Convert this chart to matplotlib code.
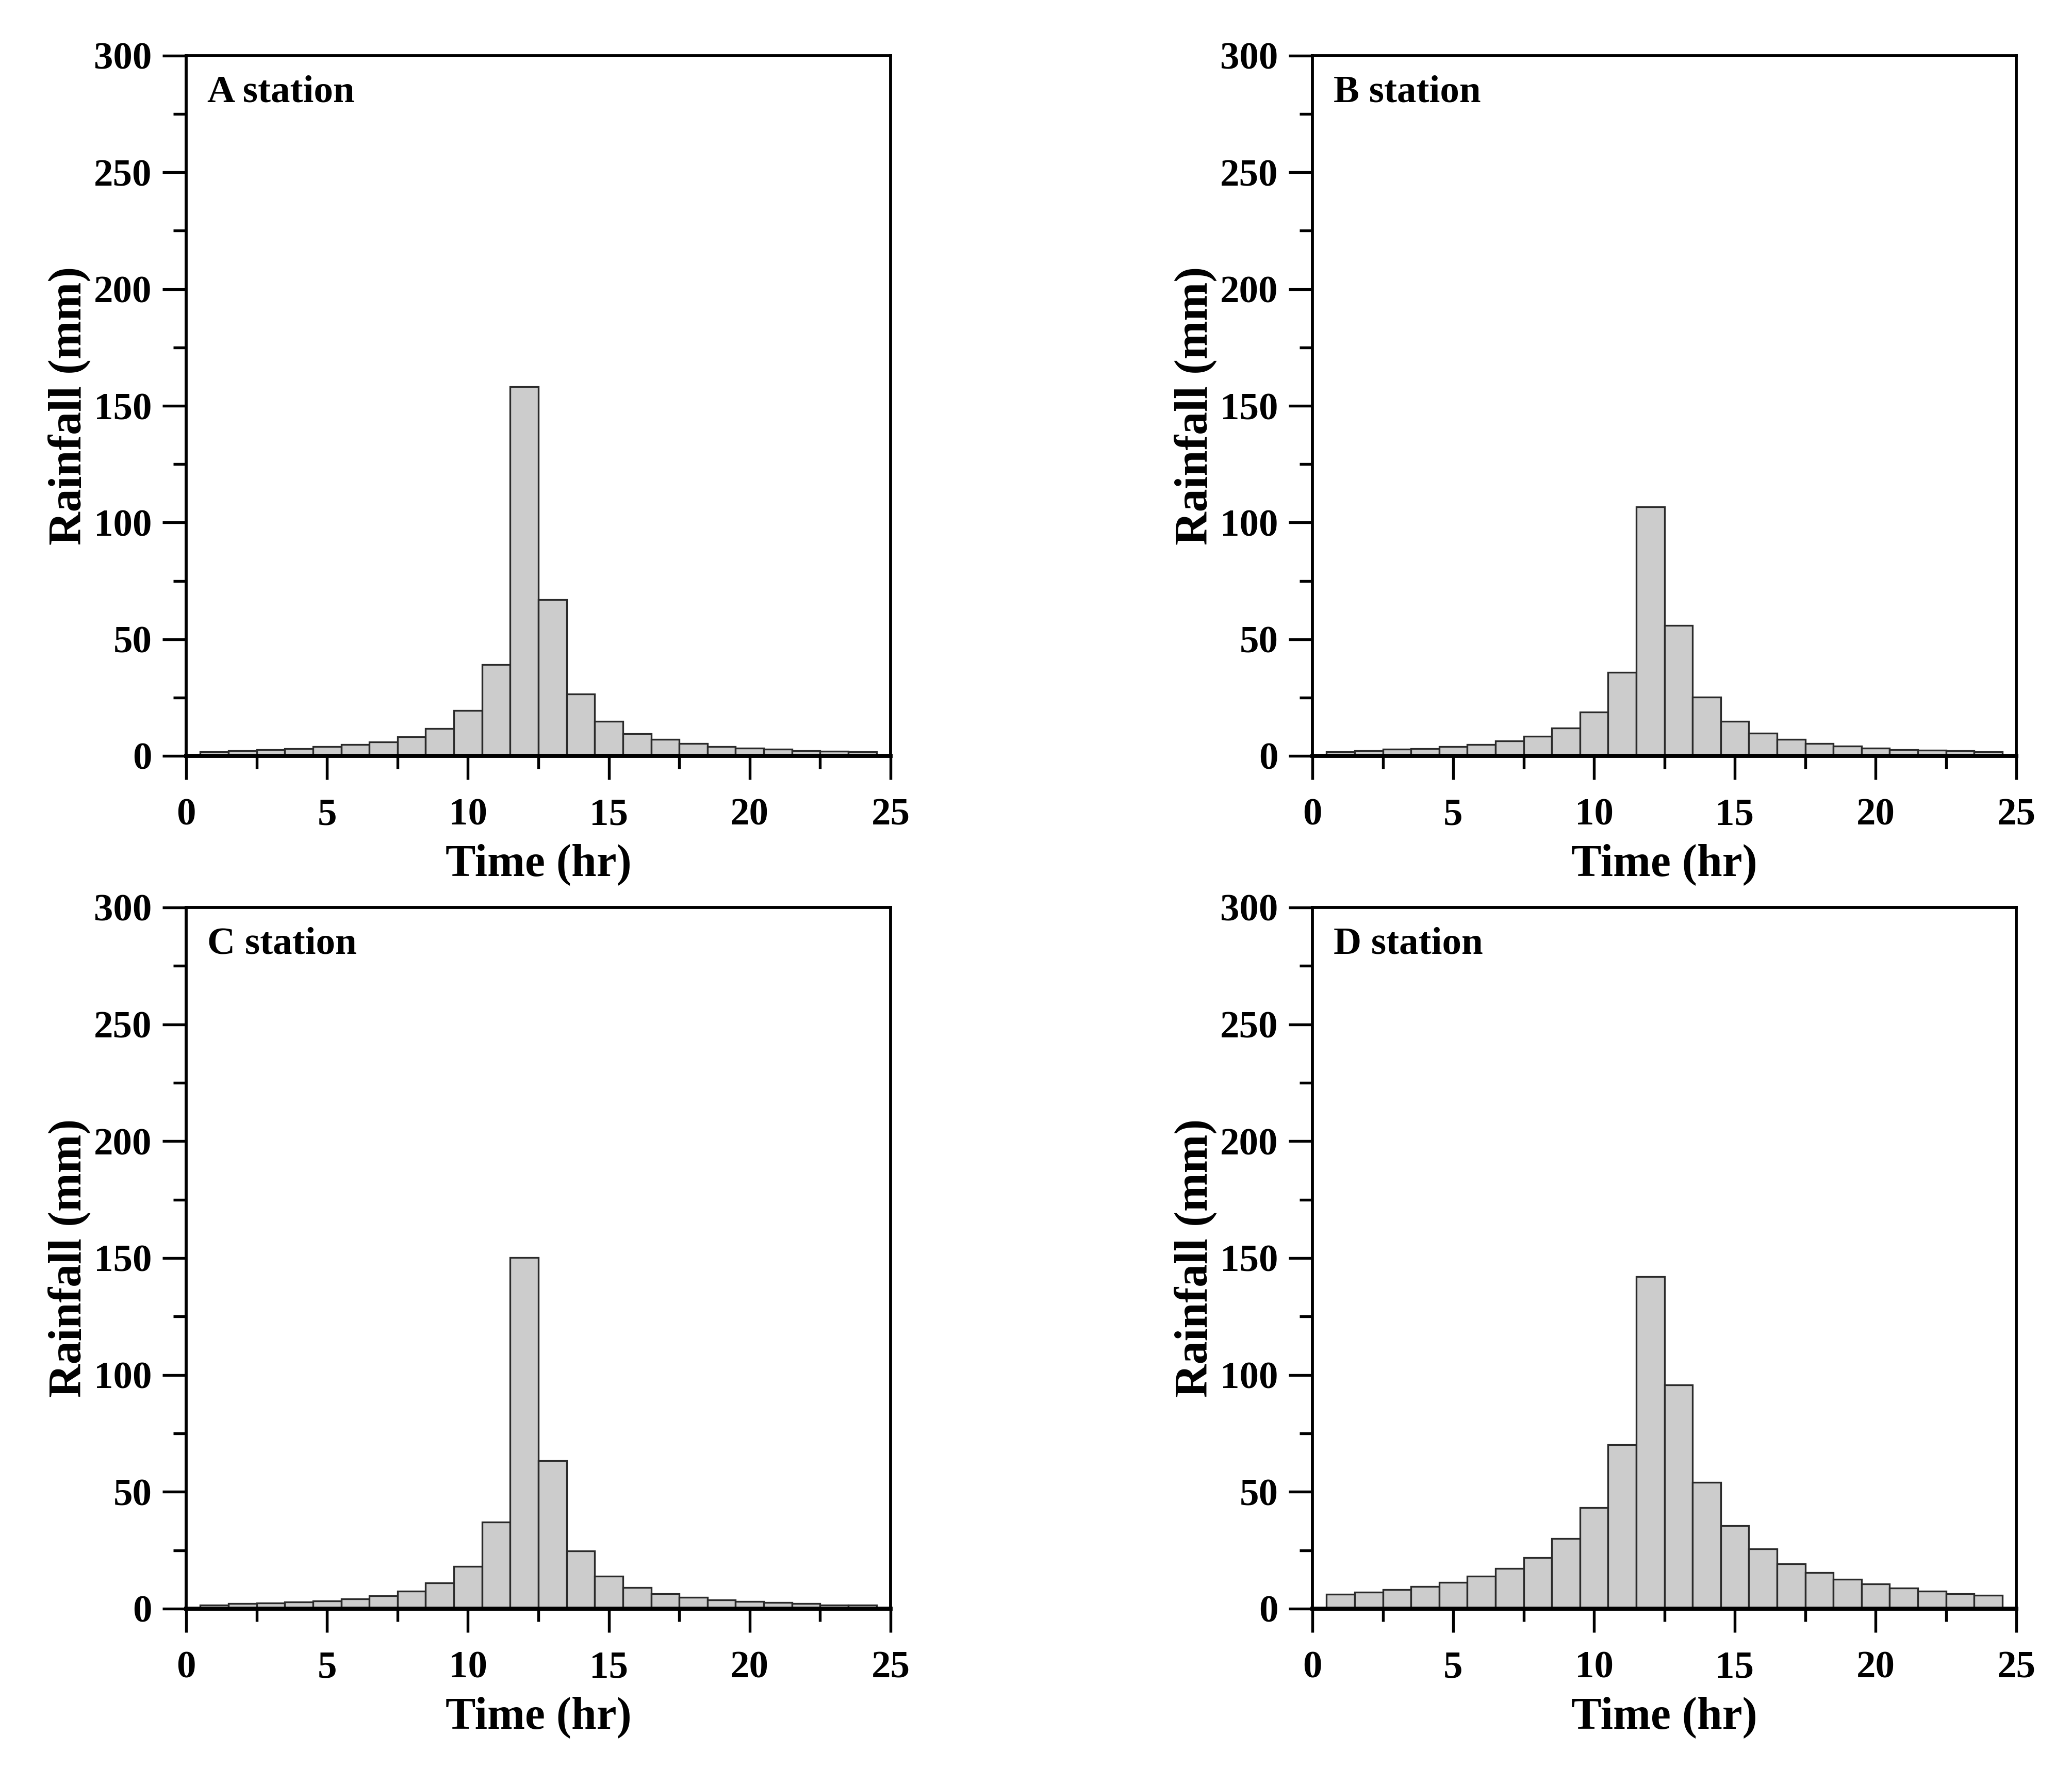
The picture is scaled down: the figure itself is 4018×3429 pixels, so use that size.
import matplotlib
matplotlib.use("Agg")
import matplotlib.pyplot as plt
from matplotlib.ticker import MultipleLocator

plt.rcParams['font.family'] = ['Liberation Serif', 'DejaVu Serif']
plt.rcParams['font.weight'] = 'bold'

hours = list(range(1, 25))
station_names = ["A station", "B station", "C station", "D station"]
rain_A = [1.7, 2.2, 2.7, 3.2, 3.9, 4.8, 6.0, 8.1, 11.6, 19.4, 39.1, 158.2,
          66.9, 26.5, 14.7, 9.6, 7.0, 5.4, 3.9, 3.3, 2.8, 2.3, 2.0, 1.8]
rain_B = [1.8, 2.3, 2.8, 3.2, 3.9, 4.8, 6.3, 8.3, 12.0, 18.8, 35.8, 106.7,
          55.9, 25.2, 14.7, 9.8, 7.1, 5.4, 4.3, 3.4, 2.7, 2.4, 2.1, 1.7]
rain_C = [1.5, 2.1, 2.4, 2.8, 3.3, 4.2, 5.6, 7.6, 11.1, 18.1, 37.0, 150.2,
          63.3, 24.7, 13.8, 9.0, 6.4, 4.8, 3.7, 3.1, 2.6, 2.1, 1.6, 1.5]
rain_D = [6.1, 7.1, 8.2, 9.5, 11.2, 13.8, 17.1, 21.9, 30.0, 43.2, 70.2, 142.1,
          95.7, 54.0, 35.6, 25.6, 19.3, 15.4, 12.5, 10.5, 8.9, 7.6, 6.5, 5.7]
series = [rain_A, rain_B, rain_C, rain_D]

W, H = 4018, 3429
fig = plt.figure(figsize=(W / 300, H / 300), dpi=300)

# axes boxes in pixels: (left, right, top, bottom)
boxes = [(361, 1727, 108, 1466), (2545, 3910, 108, 1466),
         (361, 1727, 1760, 3120), (2545, 3910, 1760, 3120)]

for name, vals, (l, r, t, b) in zip(station_names, series, boxes):
    ax = fig.add_axes([l / W, 1 - b / H, (r - l) / W, (b - t) / H])
    ax.bar(hours, vals, width=1.0, color='#cccccc', edgecolor='#2a2a2a',
           linewidth=0.8, zorder=2)
    ax.set_xlim(0, 25)
    ax.set_ylim(0, 300)
    ax.xaxis.set_major_locator(MultipleLocator(5))
    ax.xaxis.set_minor_locator(MultipleLocator(2.5))
    ax.yaxis.set_major_locator(MultipleLocator(50))
    ax.yaxis.set_minor_locator(MultipleLocator(25))
    ax.tick_params(which='major', direction='out', length=11, width=1.3,
                   labelsize=18, pad=5)
    ax.tick_params(axis='x', which='major', pad=8.5)
    ax.tick_params(which='minor', direction='out', length=6, width=1.3)
    for s in ax.spines.values():
        s.set_linewidth(1.4)
    ax.spines['bottom'].set_linewidth(1.9)
    for lab in ax.get_xticklabels() + ax.get_yticklabels():
        lab.set_fontweight('bold')
    ax.set_xlabel("Time (hr)", fontsize=21, fontweight='bold', labelpad=5)
    ax.set_ylabel("Rainfall (mm)", fontsize=21.5, fontweight='bold', labelpad=1.5)
    ax.text(0.030, 0.934, name, transform=ax.transAxes, fontsize=18,
            fontweight='bold', ha='left', va='baseline')

fig.savefig("out.png", dpi=300)
